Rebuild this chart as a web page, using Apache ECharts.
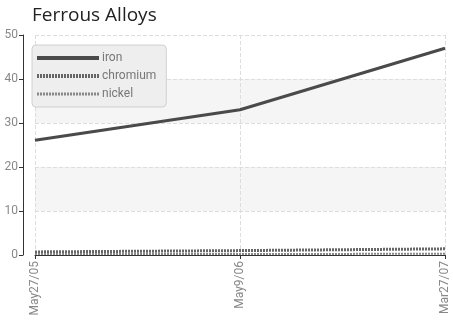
<!DOCTYPE html>
<html>
<head>
<meta charset="utf-8">
<script src="https://cdn.jsdelivr.net/npm/echarts@6/dist/echarts.min.js"></script>
<style>
  html, body { margin: 0; padding: 0; background: #fff; }
  #main { width: 453px; height: 323px; }
</style>
</head>
<body>
<div id="main"></div>
<script>
// 数据
const dates = ["May27/05", "May9/06", "Mar27/07"];
const seriesNames = ["iron", "chromium", "nickel"];
const iron = [26.1, 33, 47];
const chromium = [0.7, 1.0, 1.4];
const nickel = [0.2, 0.2, 0.3];
const yTicks = { min: 0, max: 50, interval: 10 };

const chart = echarts.init(document.getElementById("main"), null, { renderer: "canvas" });

const labelFont = "Roboto, 'Liberation Sans', sans-serif";

let option = {
  animation: false,
  title: {
    text: "Ferrous Alloys",
    left: 27,
    top: 1,
    textStyle: { fontFamily: "'Open Sans', 'DejaVu Sans', sans-serif", fontSize: 19, fontWeight: "normal", color: "#222" }
  },
  grid: { left: 35, right: 8, top: 35, bottom: 68 },
  legend: {
    orient: "vertical",
    left: 32,
    top: 45,
    itemWidth: 62,
    itemHeight: 10,
    itemGap: 6,
    padding: [7, 10, 7, 3],
    backgroundColor: "#eeeeee",
    borderColor: "#d0d0d0",
    borderWidth: 1,
    borderRadius: 4,
    itemStyle: { opacity: 0 },
    textStyle: { fontFamily: labelFont, fontSize: 12, color: "#777", padding: [0, 0, 0, -2] },
    data: [
      { name: seriesNames[0], lineStyle: { width: 4 } },
      { name: seriesNames[1], lineStyle: { width: 4 } },
      { name: seriesNames[2], lineStyle: { width: 3 } }
    ]
  },
  xAxis: {
    type: "category",
    data: dates,
    boundaryGap: false,
    axisLine: { show: true, lineStyle: { color: "#333" } },
    axisTick: { show: true, length: 4, lineStyle: { color: "#333" } },
    axisLabel: { rotate: 90, color: "#888", fontFamily: labelFont, fontSize: 12, margin: 6 },
    splitLine: { show: true, lineStyle: { type: "dashed", color: "#ddd" } }
  },
  yAxis: {
    type: "value",
    min: yTicks.min,
    max: yTicks.max,
    interval: yTicks.interval,
    offset: 12,
    axisLine: { show: true, lineStyle: { color: "#333" } },
    axisTick: { show: true, length: 4, lineStyle: { color: "#333" } },
    axisLabel: { color: "#888", fontFamily: labelFont, fontSize: 12, margin: 5 },
    splitLine: { show: true, lineStyle: { type: "dashed", color: "#ddd" } },
    splitArea: { show: true, areaStyle: { color: ["#ffffff", "#f5f5f5"] } }
  },
  series: [
    {
      name: seriesNames[0],
      type: "line",
      data: iron,
      symbol: "none",
      color: "#4a4a4a",
      lineStyle: { width: 3, color: "#4a4a4a" },
      z: 3
    },
    {
      name: seriesNames[1],
      type: "line",
      data: chromium,
      symbol: "none",
      color: "#666",
      lineStyle: { width: 3, color: "#666", type: [2, 1] },
      z: 2
    },
    {
      name: seriesNames[2],
      type: "line",
      data: nickel,
      symbol: "none",
      color: "#888",
      lineStyle: { width: 2, color: "#888", type: [2, 1] },
      z: 2
    }
  ]
};

chart.setOption(option);
</script>
</body>
</html>
